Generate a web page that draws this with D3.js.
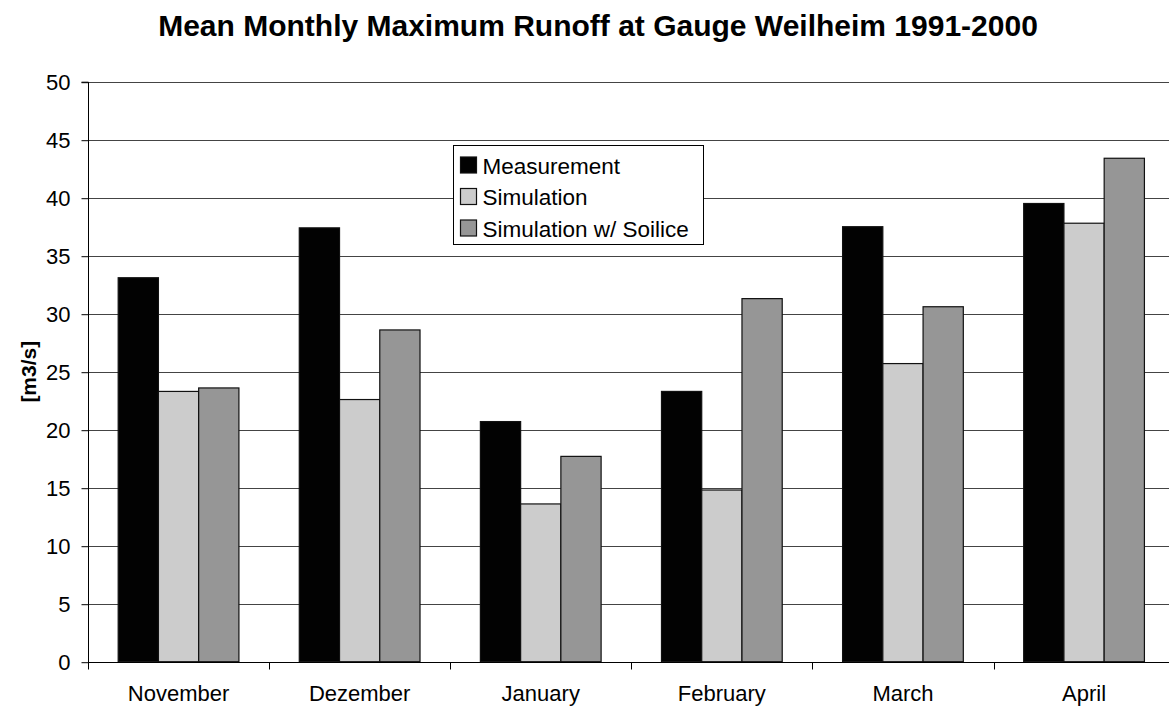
<!DOCTYPE html>
<html>
<head>
<meta charset="utf-8">
<script src="https://cdn.jsdelivr.net/npm/d3@7"></script>
<style>
  html, body { margin: 0; padding: 0; background: #fff; }
  svg { display: block; font-family: "Liberation Sans", Arial, sans-serif; }
</style>
</head>
<body>
<svg id="chart" width="1169" height="708"></svg>
<script>
const categories = ["November", "Dezember", "January", "February", "March", "April"];
const seriesNames = ["Measurement", "Simulation", "Simulation w/ Soilice"];
const measurement = [33.1, 37.4, 20.7, 23.3, 37.5, 39.5];
const simulation = [23.3, 22.6, 13.6, 14.8, 25.7, 37.8];
const simulationSoilice = [23.6, 28.6, 17.7, 31.3, 30.6, 43.4];
const yTicks = [0, 5, 10, 15, 20, 25, 30, 35, 40, 45, 50];
const seriesColors = ["#020202", "#cccccc", "#969696"];
const titleText = "Mean Monthly Maximum Runoff at Gauge Weilheim 1991-2000";
const yLabel = "[m3/s]";

const seriesValues = [measurement, simulation, simulationSoilice];

const svg = d3.select("#chart");
const plotLeft = 88, plotRight = 1174.6, plotTop = 81.7, plotBottom = 661.7;

const x = d3.scaleBand().domain(categories).range([plotLeft, plotRight]).padding(0);
const xSub = d3.scaleBand().domain(seriesNames).range([0, x.bandwidth()])
  .paddingInner(0).paddingOuter(0.75);
const y = d3.scaleLinear().domain([0, 50]).range([plotBottom, plotTop]);

// title
svg.append("text")
  .attr("x", 598).attr("y", 36)
  .attr("text-anchor", "middle")
  .attr("font-size", 30).attr("font-weight", "bold")
  .text(titleText);

// gridlines
svg.append("g").selectAll("line").data(yTicks.filter(d => d > 0)).join("line")
  .attr("x1", plotLeft).attr("x2", plotRight)
  .attr("y1", d => Math.round(y(d)) + 0.5).attr("y2", d => Math.round(y(d)) + 0.5)
  .attr("stroke", "#444").attr("stroke-width", 1);

// bars
const groups = svg.append("g").selectAll("g").data(categories).join("g")
  .attr("transform", d => `translate(${x(d)},0)`);
groups.selectAll("rect")
  .data((c, i) => seriesNames.map((s, j) => ({ s, j, v: seriesValues[j][i] })))
  .join("rect")
  .attr("x", d => xSub(d.s))
  .attr("width", xSub.bandwidth())
  .attr("y", d => y(d.v))
  .attr("height", d => y(0) - y(d.v))
  .attr("fill", d => seriesColors[d.j])
  .attr("stroke", "#111").attr("stroke-width", 1.2);

// y axis
const yAxis = d3.axisLeft(y).tickValues(yTicks).tickSize(7).tickPadding(11).tickFormat(d3.format("d"));
const gy = svg.append("g").attr("transform", `translate(${plotLeft + 0.5},0.5)`).call(yAxis);
gy.selectAll("text").attr("font-size", 22).attr("font-family", "Liberation Sans, Arial, sans-serif").attr("fill", "#000");
gy.selectAll("line").attr("stroke", "#000");
gy.select(".domain").attr("stroke", "#000").attr("d", `M-7,${y(50)}H0V${y(0)}`);

// x axis
const gx = svg.append("g").attr("transform", `translate(0,${Math.round(plotBottom) + 0.5})`);
gx.append("line").attr("x1", plotLeft).attr("x2", plotRight).attr("stroke", "#000");
gx.selectAll("line.tick").data(categories).join("line")
  .attr("class", "tick")
  .attr("x1", d => Math.round(x(d)) + 0.5).attr("x2", d => Math.round(x(d)) + 0.5)
  .attr("y1", 0).attr("y2", 7).attr("stroke", "#000");
gx.selectAll("text").data(categories).join("text")
  .attr("x", d => x(d) + x.bandwidth() / 2)
  .attr("y", 38)
  .attr("text-anchor", "middle")
  .attr("font-size", 22)
  .text(d => d);

// y label
svg.append("text")
  .attr("transform", `translate(36,${(plotTop + plotBottom) / 2}) rotate(-90)`)
  .attr("text-anchor", "middle")
  .attr("font-size", 21).attr("font-weight", "bold")
  .text(yLabel);

// legend
const lg = svg.append("g").attr("transform", "translate(453.5,145.5)");
lg.append("rect").attr("width", 250).attr("height", 99)
  .attr("fill", "#fff").attr("stroke", "#000").attr("stroke-width", 1);
const items = lg.selectAll("g").data(seriesNames).join("g")
  .attr("transform", (d, i) => `translate(0,${20 + i * 31.5})`);
items.append("rect").attr("x", 7).attr("y", -8.5).attr("width", 16).attr("height", 16)
  .attr("fill", (d, i) => seriesColors[i]).attr("stroke", "#111").attr("stroke-width", 1.2);
items.append("text").attr("x", 29).attr("y", 8).attr("font-size", 22.5).text(d => d);
</script>
</body>
</html>
